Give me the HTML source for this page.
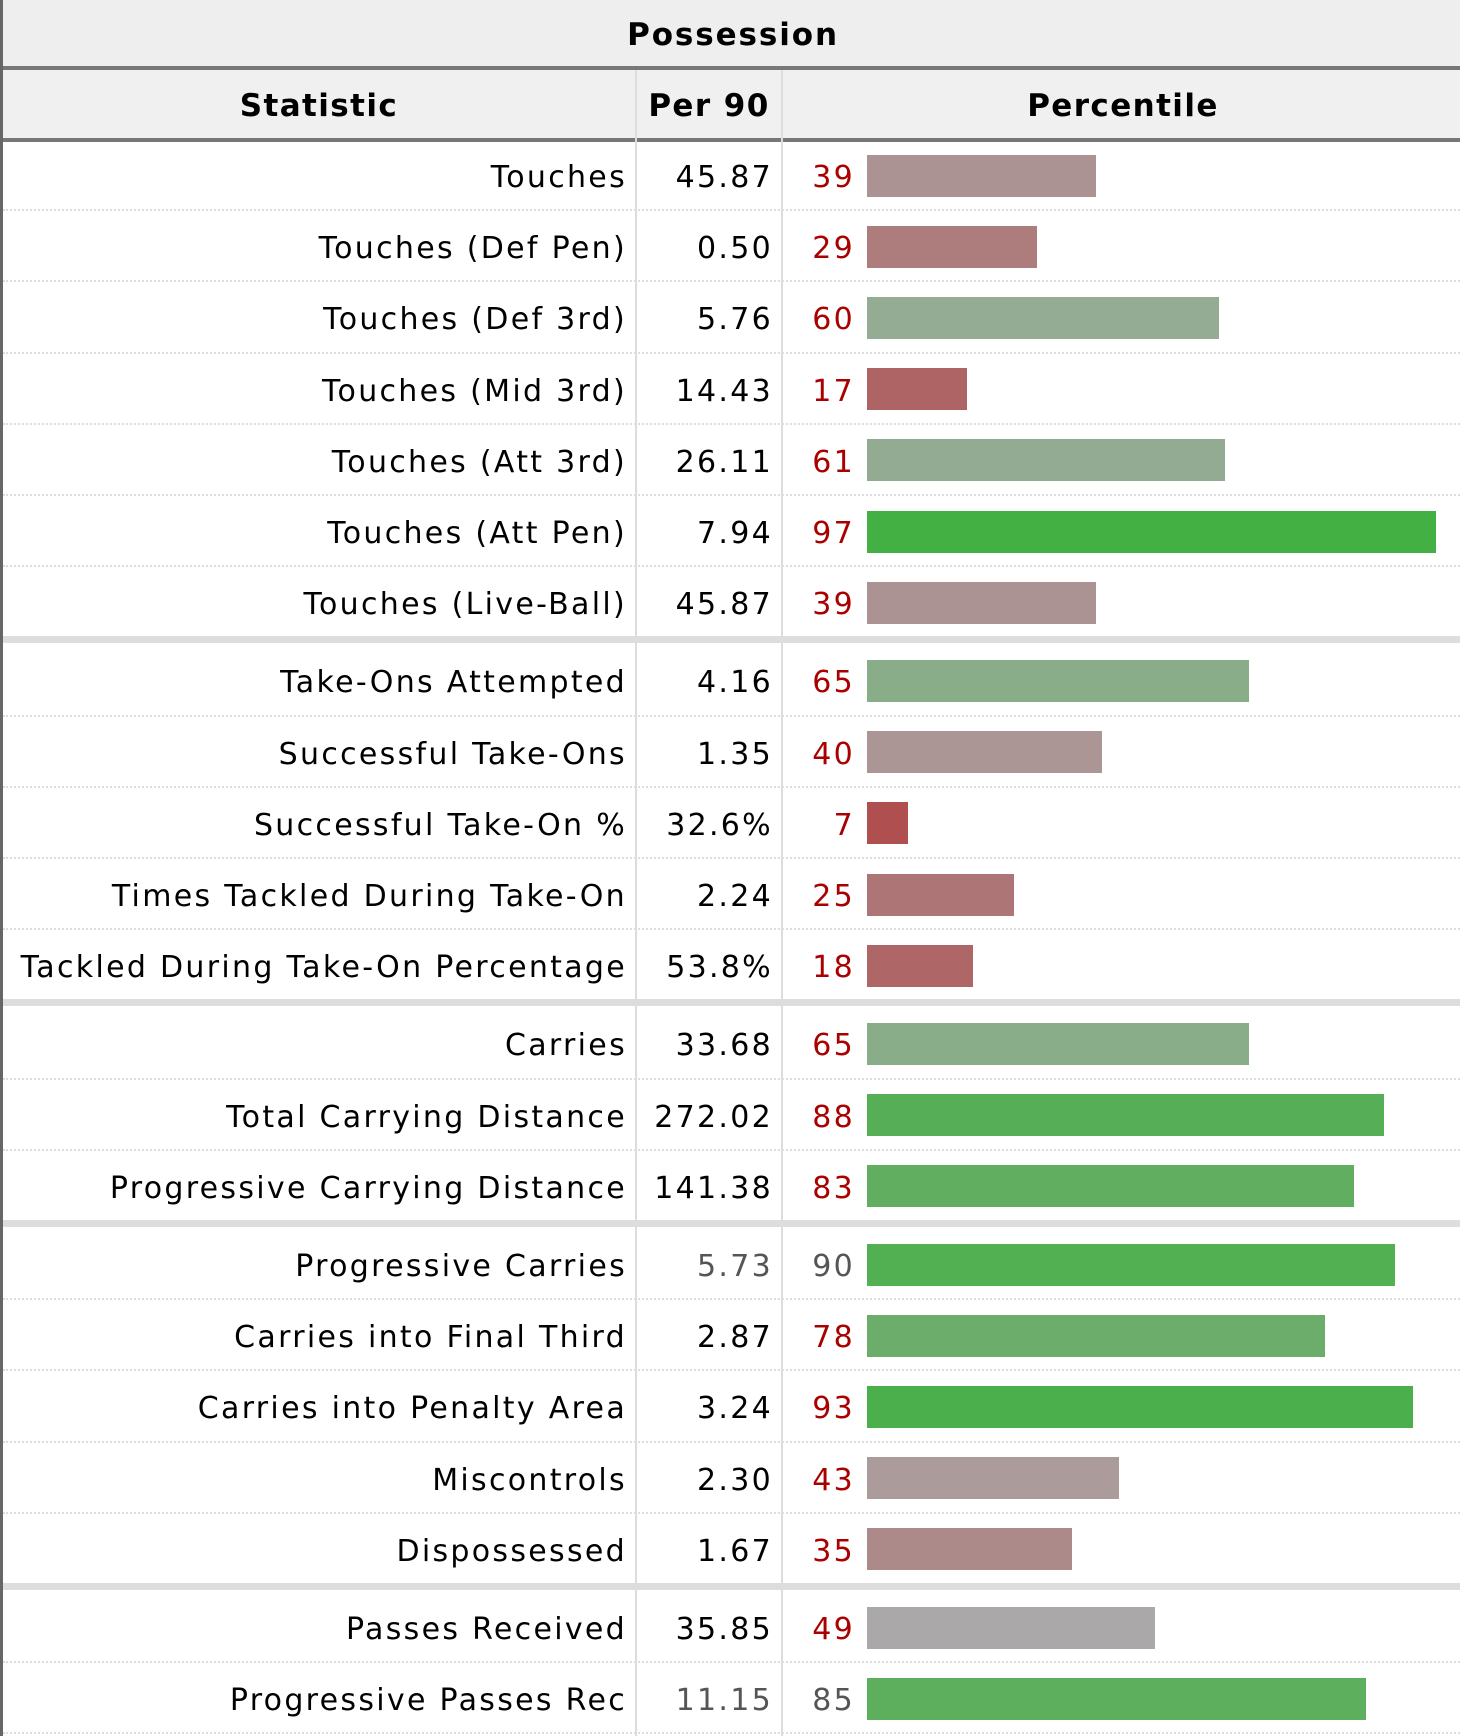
<!DOCTYPE html>
<html><head><meta charset="utf-8">
<style>
html,body{margin:0;padding:0;background:#fff;}
body{width:1460px;height:1736px;overflow:hidden;position:relative;font-family:"DejaVu Sans","Liberation Sans",sans-serif;}
#wrap{position:absolute;left:0;top:0;width:1460px;height:1736px;border-left:3px solid #666;box-sizing:border-box;}
.title{position:absolute;left:0;top:0;width:1460px;height:66px;background:#eee;font-weight:bold;font-size:31px;letter-spacing:1.9px;text-align:center;line-height:70px;color:#000;}
.line{position:absolute;left:0;width:1460px;height:4px;background:#777;}
.hdr{position:absolute;top:70px;height:68px;background:#f0f0f0;font-weight:bold;font-size:31px;letter-spacing:1.4px;line-height:72px;text-align:center;color:#000;}
.vdiv{position:absolute;width:2px;background:#ddd;}
.row{position:absolute;left:0;width:1460px;border-bottom:2px dotted #ddd;box-sizing:border-box;}
.lab,.p90,.pct{position:absolute;top:2px;font-size:30px;letter-spacing:2.3px;text-align:right;white-space:nowrap;}
.lab{left:0;width:624px;color:#000;}
.p90{left:634px;width:136px;color:#000;}
.pct{left:780px;width:72px;color:#a00;}
.bar{position:absolute;left:864px;height:42px;}
.sep{position:absolute;left:0;width:1460px;height:7px;background:#ddd;}
</style></head>
<body>
<div id="wrap">
<div class="title">Possession</div>
<div class="line" style="top:66px"></div>
<div class="hdr" style="left:0;width:632px">Statistic</div>
<div class="hdr" style="left:634px;width:144px">Per 90</div>
<div class="hdr" style="left:780px;width:680px">Percentile</div>
<div class="line" style="top:138px"></div>
<div class="vdiv" style="left:632px;top:70px;height:1666px"></div>
<div class="vdiv" style="left:778px;top:70px;height:1666px"></div>
<div id="body"></div>
</div>
<script>
const labels=["Touches","Touches (Def Pen)","Touches (Def 3rd)","Touches (Mid 3rd)","Touches (Att 3rd)","Touches (Att Pen)","Touches (Live-Ball)","Take-Ons Attempted","Successful Take-Ons","Successful Take-On %","Times Tackled During Take-On","Tackled During Take-On Percentage","Carries","Total Carrying Distance","Progressive Carrying Distance","Progressive Carries","Carries into Final Third","Carries into Penalty Area","Miscontrols","Dispossessed","Passes Received","Progressive Passes Rec"];
const per90=["45.87","0.50","5.76","14.43","26.11","7.94","45.87","4.16","1.35","32.6%","2.24","53.8%","33.68","272.02","141.38","5.73","2.87","3.24","2.30","1.67","35.85","11.15"];
const percentiles=[39,29,60,17,61,97,39,65,40,7,25,18,65,88,83,90,78,93,43,35,49,85];
const groupSizes=[7,5,3,5,2];
const mutedRows=[15,21];

const rowH=71.2, sepH=7, top0=140, barScale=5.87;
function xScale(p){return p*barScale;}
function colorFor(p){
  let a,b,t;
  if(p<50){a=[176,64,64];b=[170,170,170];t=p/50;}
  else{a=[170,170,170];b=[60,176,60];t=(p-50)/50;}
  const c=a.map((v,i)=>Math.round(v+(b[i]-v)*t));
  return `rgb(${c[0]},${c[1]},${c[2]})`;
}
const body=document.getElementById('body');
let y=top0, idx=0;
groupSizes.forEach((n,g)=>{
  if(g>0){
    const s=document.createElement('div');
    s.className='sep';
    s.style.top=(y-2)+'px';
    
    
    body.appendChild(s);
    y+=sepH;
  }
  for(let k=0;k<n;k++,idx++){
    const r=document.createElement('div');
    r.className='row';
    r.style.top=y+'px';r.style.height=rowH+'px';
    
    
    const lh=(rowH)+'px';
    const muted=mutedRows.includes(idx);
    const l=document.createElement('div');l.className='lab';l.style.lineHeight=lh;l.textContent=labels[idx];
    
    
    const v=document.createElement('div');v.className='p90';v.style.lineHeight=lh;v.textContent=per90[idx];
    if(muted)v.style.color='#555';
    
    
    const p=document.createElement('div');p.className='pct';p.style.lineHeight=lh;p.textContent=percentiles[idx];
    if(muted)p.style.color='#555';
    
    
    const b=document.createElement('div');b.className='bar';
    b.style.top=((rowH-42)/2)+'px';
    b.style.width=xScale(percentiles[idx])+'px';
    b.style.background=colorFor(percentiles[idx]);
    
    
    r.appendChild(l);r.appendChild(v);r.appendChild(p);r.appendChild(b);
    body.appendChild(r);
    y+=rowH;
  }
});
</script>
</body></html>
